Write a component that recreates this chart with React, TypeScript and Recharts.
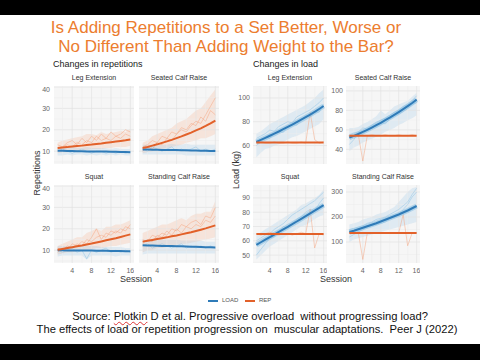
import React from "react";
import {
  ComposedChart,
  Line,
  Area,
  XAxis,
  YAxis,
  ReferenceLine,
  ReferenceArea,
} from "recharts";

const SESSIONS = [1, 2, 3, 4, 5, 6, 7, 8, 9, 10, 11, 12, 13, 14, 15, 16];
const SESSION_TICKS = [4, 8, 12, 16];
const SESSION_MINOR = [2, 6, 10, 14];

// ---- Changes in repetitions (shared y axis) ----
const REPS_TICKS = [10, 20, 30, 40];
const REPS_MINOR = [5, 15, 25, 35];

// Leg Extension
const rLE_repFit = [11.5, 11.7, 11.9, 12.2, 12.4, 12.6, 12.9, 13.1, 13.4, 13.6, 13.9, 14.2, 14.5, 14.8, 15.1, 15.5];
const rLE_loadFit = [10.2, 10.2, 10.1, 10.1, 10.0, 10.0, 9.9, 9.9, 9.9, 9.8, 9.8, 9.7, 9.7, 9.6, 9.6, 9.5];
const rLE_repLo = [9, 9.5, 9.5, 10, 10, 10.5, 10.5, 11, 11, 11, 11.5, 11.5, 12, 12, 12, 12.5];
const rLE_repHi = [14, 15, 15.5, 16, 16.5, 17, 18, 18, 17.5, 19, 18, 18.5, 19, 19.5, 19, 20.5];
const rLE_loadLo = [8, 8, 8.5, 8, 8.5, 8.5, 8, 8.5, 8, 8.5, 8, 8.5, 8, 8.5, 8, 8];
const rLE_loadHi = [12, 12, 11.5, 12, 11.5, 11.5, 12, 11.5, 11.5, 11.5, 11.5, 11, 11.5, 11, 11, 11];
const rLE_repA = [11, 12, 13, 12, 14, 13, 15, 14, 17, 15, 16, 15, 17, 16, 18, 17];
const rLE_repB = [13, 12, 14, 15, 13, 16, 14, 17, 15, 18, 16, 19, 17, 18, 20, 19];
const rLE_loadA = [10, 11, 10, 9, 10, 11, 10, 9, 10, 10, 9, 10, 9, 10, 9, 10];

// Seated Calf Raise
const rSCR_repFit = [11.5, 12.0, 12.6, 13.2, 13.9, 14.6, 15.3, 16.1, 16.9, 17.8, 18.7, 19.7, 20.7, 21.8, 23.0, 24.3];
const rSCR_loadFit = [10.8, 10.8, 10.7, 10.7, 10.6, 10.6, 10.5, 10.5, 10.4, 10.4, 10.3, 10.3, 10.2, 10.2, 10.1, 10.1];
const rSCR_repLo = [9, 9.5, 10, 10.5, 11, 11.5, 12, 12.5, 13, 14, 14.5, 15, 16, 16, 17, 18];
const rSCR_repHi = [14, 15, 17, 18, 19, 20, 21, 23, 24, 25, 27, 29, 30, 33, 36, 39];
const rSCR_loadLo = [8.5, 8.5, 8.5, 8.5, 8.5, 8.5, 8.5, 8.5, 8.5, 8, 8, 8, 8, 8, 8, 8];
const rSCR_loadHi = [13, 13, 13, 13, 13, 13, 13.5, 13, 13, 13.5, 13, 13, 13, 13, 13, 13];
const rSCR_repA = [12, 13, 15, 14, 17, 16, 19, 18, 21, 20, 23, 22, 26, 24, 29, 27];
const rSCR_repB = [10, 12, 11, 14, 13, 16, 15, 18, 20, 19, 22, 24, 23, 27, 31, 35];
const rSCR_loadA = [11, 10, 12, 11, 10, 11, 12, 10, 11, 10, 11, 12, 10, 11, 10, 11];

// Squat
const rSQ_repFit = [10.2, 10.6, 11.0, 11.4, 11.8, 12.2, 12.7, 13.1, 13.6, 14.1, 14.6, 15.1, 15.6, 16.2, 16.8, 17.4];
const rSQ_loadFit = [10.0, 10.0, 9.9, 9.9, 9.9, 9.8, 9.8, 9.8, 9.7, 9.7, 9.7, 9.6, 9.6, 9.6, 9.5, 9.5];
const rSQ_repLo = [8, 8.5, 9, 9, 9.5, 10, 10, 10.5, 11, 11, 11.5, 12, 12, 12.5, 13, 13.5];
const rSQ_repHi = [12, 13, 14, 15, 16, 16, 18, 19, 20, 19, 21, 21, 22, 22, 23, 24];
const rSQ_loadLo = [7, 7.5, 7.5, 7.5, 7.5, 7.5, 5.5, 7.5, 7.5, 7.5, 7.5, 7.5, 7, 7.5, 7.5, 7.5];
const rSQ_loadHi = [12, 12, 12, 12, 12, 12, 12, 12, 12, 11.5, 11.5, 11.5, 11.5, 11.5, 11, 11];
const rSQ_repA = [9, 11, 10, 13, 12, 14, 13, 16, 20, 15, 18, 17, 19, 18, 21, 20];
const rSQ_repB = [11, 10, 12, 11, 13, 12, 15, 14, 16, 17, 16, 19, 18, 20, 19, 22];
const rSQ_loadA = [10, 9, 10, 11, 9, 10, 6, 10, 9, 10, 11, 9, 10, 9, 10, 9];

// Standing Calf Raise
const rSTC_repFit = [14.0, 14.4, 14.8, 15.2, 15.6, 16.0, 16.5, 16.9, 17.4, 17.9, 18.4, 19.0, 19.6, 20.2, 20.9, 21.6];
const rSTC_loadFit = [12.3, 12.2, 12.2, 12.1, 12.0, 12.0, 11.9, 11.8, 11.8, 11.7, 11.6, 11.6, 11.5, 11.4, 11.4, 11.3];
const rSTC_repLo = [9, 10, 10, 11, 11, 11.5, 12, 12.5, 13, 13, 13.5, 14, 14.5, 15, 15.5, 16];
const rSTC_repHi = [18, 19, 20, 21, 22, 22, 23, 24, 25, 24, 26, 27, 27, 28, 28, 33];
const rSTC_loadLo = [8, 8.5, 8.5, 8.5, 8.5, 8.5, 8.5, 8.5, 8.5, 8.5, 8.5, 8.5, 8.5, 8.5, 8.5, 8.5];
const rSTC_loadHi = [15, 15, 15, 15, 15, 15, 15, 15, 14.5, 14.5, 14.5, 14.5, 14.5, 14, 14, 14];
const rSTC_repA = [13, 15, 14, 17, 16, 19, 17, 20, 18, 21, 20, 22, 21, 24, 23, 26];
const rSTC_repB = [15, 14, 17, 16, 18, 17, 20, 19, 22, 21, 23, 24, 22, 26, 25, 30];
const rSTC_loadA = [12, 13, 11, 12, 13, 12, 11, 12, 13, 11, 12, 11, 12, 11, 12, 11];

// ---- Changes in load (free y axes) ----
const kLE_loadFit = [63, 64.7, 66.4, 68.2, 70, 71.8, 73.7, 75.6, 77.6, 79.6, 81.7, 83.8, 86, 88.3, 90.7, 93.2];
const kLE_repFit = [62.5, 62.5, 62.5, 62.5, 62.5, 62.5, 62.5, 62.5, 62.5, 62.5, 62.5, 62.5, 62.5, 62.5, 62.5, 62.5];
const kLE_loadLo = [50, 54, 57, 58, 60, 61, 63, 65, 67, 68, 70, 72, 74, 76, 78, 82];
const kLE_loadHi = [70, 72, 75, 78, 80, 82, 84, 86, 88, 90, 92, 94, 97, 100, 104, 107];
const kLE_loadA = [60, 63, 67, 66, 70, 72, 71, 76, 78, 77, 82, 85, 84, 88, 88, 95];
const kLE_loadB = [66, 68, 70, 73, 72, 76, 78, 80, 79, 84, 86, 88, 90, 93, 96, 100];
const kLE_repA = [62, 63, 62, 62, 63, 62, 62, 63, 62, 62, 63, 62, 88, 65, 62, 63];

const kSCR_loadFit = [52, 53.8, 55.8, 57.9, 60.1, 62.4, 64.8, 67.3, 69.9, 72.6, 75.4, 78.3, 81.3, 84.4, 87.6, 91];
const kSCR_repFit = [54, 54, 54, 54, 54, 54, 54, 54, 54, 54, 54, 54, 54, 54, 54, 54];
const kSCR_loadLo = [38, 42, 44, 47, 49, 51, 53, 55, 58, 60, 62, 65, 67, 70, 72, 75];
const kSCR_loadHi = [62, 62, 63, 66, 68, 71, 74, 80, 76, 80, 84, 86, 88, 90, 94, 98];
const kSCR_loadA = [45, 50, 57, 56, 60, 64, 63, 68, 66, 71, 74, 76, 79, 82, 86, 88];
const kSCR_loadB = [55, 57, 58, 62, 61, 65, 68, 70, 72, 75, 78, 80, 84, 86, 90, 95];
const kSCR_repA = [53, 54, 55, 28, 54, 55, 54, 54, 55, 54, 54, 55, 54, 54, 55, 54];

const kSQ_loadFit = [57.2, 59, 60.8, 62.6, 64.4, 66.2, 68, 69.8, 71.6, 73.5, 75.4, 77.3, 79.2, 81.1, 83, 85];
const kSQ_repFit = [64.8, 64.8, 64.8, 64.8, 64.8, 64.8, 64.8, 64.8, 64.8, 64.8, 64.8, 64.8, 64.8, 64.8, 64.8, 64.8];
const kSQ_loadLo = [47, 50, 53, 56, 58, 60, 62, 64, 66, 68, 70, 71, 73, 75, 77, 78];
const kSQ_loadHi = [64, 66, 68, 70, 72, 74, 76, 78, 80, 82, 85, 86, 88, 90, 92, 96];
const kSQ_loadA = [50, 54, 58, 62, 63, 66, 70, 69, 72, 75, 77, 80, 82, 81, 86, 90];
const kSQ_loadB = [60, 62, 64, 65, 68, 70, 72, 75, 78, 80, 82, 84, 86, 88, 91, 94];
const kSQ_repA = [65, 64, 65, 66, 65, 64, 65, 65, 64, 65, 66, 65, 82, 55, 65, 64];

const kSTC_loadFit = [140, 145, 151, 157, 163, 169, 175, 182, 189, 196, 203, 210, 218, 226, 235, 244];
const kSTC_repFit = [136, 136, 136, 136, 136, 136, 136, 136, 136, 136, 136, 136, 136, 136, 136, 136];
const kSTC_loadLo = [100, 110, 115, 120, 125, 130, 135, 140, 145, 150, 155, 160, 165, 170, 175, 180];
const kSTC_loadHi = [170, 175, 180, 190, 195, 200, 210, 215, 220, 230, 240, 260, 280, 300, 315, 320];
const kSTC_loadA = [120, 130, 140, 150, 160, 165, 170, 175, 180, 195, 200, 210, 230, 250, 280, 300];
const kSTC_loadB = [150, 155, 160, 165, 175, 180, 190, 195, 200, 210, 220, 230, 245, 260, 290, 315];
const kSTC_repA = [135, 137, 136, 30, 136, 137, 135, 136, 137, 136, 135, 136, 210, 85, 136, 137];

const BLUE = "#2f7bb8";
const ORANGE = "#e2612a";
const BLUE_LIGHT = "#8ec1e3";
const ORANGE_LIGHT = "#f4a27c";
const FONT = '"Liberation Sans", Arial, sans-serif';

type FacetData = {
  repFit: number[];
  loadFit: number[];
  repLo?: number[];
  repHi?: number[];
  loadLo?: number[];
  loadHi?: number[];
  repLines: number[][];
  loadLines: number[][];
};

type FacetProps = {
  title: string;
  x: number;
  y: number;
  w: number;
  h: number;
  yw: number;
  showX: boolean;
  domain: [number, number];
  ticks: number[];
  minor: number[];
  kind: "reps" | "load";
  d: FacetData;
};

function Facet({ title, x, y, w, h, yw, showX, domain, ticks, minor, kind, d }: FacetProps) {
  const rows = SESSIONS.map((s, i) => {
    const r: Record<string, any> = { session: s, repFit: d.repFit[i], loadFit: d.loadFit[i] };
    if (d.repLo && d.repHi) r.repBand = [d.repLo[i], d.repHi[i]];
    if (d.loadLo && d.loadHi) r.loadBand = [d.loadLo[i], d.loadHi[i]];
    d.repLines.forEach((l, j) => (r["rep" + j] = l[i]));
    d.loadLines.forEach((l, j) => (r["load" + j] = l[i]));
    return r;
  });
  const chartH = h + (showX ? 14 : 0);
  const tick = { fontSize: 7, fill: "#666", fontFamily: FONT };

  const repSpread = (
    <>
      {d.repLo && (
        <Area dataKey="repBand" stroke="none" fill={ORANGE_LIGHT} fillOpacity={0.22} isAnimationActive={false} />
      )}
      {d.repLines.map((_, j) => (
        <Line key={"r" + j} dataKey={"rep" + j} stroke={ORANGE_LIGHT} strokeWidth={0.6} strokeOpacity={0.8} dot={false} isAnimationActive={false} />
      ))}
    </>
  );
  const loadSpread = (
    <>
      {d.loadLo && (
        <Area dataKey="loadBand" stroke="none" fill={BLUE_LIGHT} fillOpacity={0.22} isAnimationActive={false} />
      )}
      {d.loadLines.map((_, j) => (
        <Line key={"l" + j} dataKey={"load" + j} stroke={BLUE_LIGHT} strokeWidth={0.6} strokeOpacity={0.8} dot={false} isAnimationActive={false} />
      ))}
    </>
  );

  return (
    <>
      <div
        style={{
          position: "absolute",
          left: x,
          top: y - 12,
          width: w,
          textAlign: "center",
          fontSize: 7,
          color: "#333",
          fontFamily: FONT,
          whiteSpace: "nowrap",
        }}
      >
        {title}
      </div>
      <div style={{ position: "absolute", left: x - yw, top: y }}>
        <ComposedChart width={yw + w} height={chartH} data={rows} margin={{ top: 0, right: 0, bottom: 0, left: 0 }}>
          <XAxis
            type="number"
            dataKey="session"
            domain={[0.25, 16.75]}
            ticks={SESSION_TICKS}
            allowDataOverflow
            hide={!showX}
            height={14}
            tick={tick}
            tickLine={false}
            axisLine={false}
            tickSize={0}
            tickMargin={5}
          />
          <YAxis
            type="number"
            domain={domain}
            ticks={ticks}
            allowDataOverflow
            hide={yw === 0}
            width={yw}
            tick={tick}
            tickLine={false}
            axisLine={false}
            tickSize={0}
            tickMargin={kind === "reps" ? 4 : 3}
          />
          <ReferenceArea x1={0.25} x2={16.75} y1={domain[0]} y2={domain[1]} fill="#f6f6f6" fillOpacity={1} stroke="none" />
          {minor.map((v) => (
            <ReferenceLine key={"hm" + v} y={v} stroke="#ececec" strokeWidth={0.5} />
          ))}
          {ticks.map((v) => (
            <ReferenceLine key={"h" + v} y={v} stroke="#e2e2e2" strokeWidth={0.7} />
          ))}
          {SESSION_MINOR.map((v) => (
            <ReferenceLine key={"vm" + v} x={v} stroke="#ececec" strokeWidth={0.5} />
          ))}
          {SESSION_TICKS.map((v) => (
            <ReferenceLine key={"v" + v} x={v} stroke="#e2e2e2" strokeWidth={0.7} />
          ))}
          {kind === "reps" ? repSpread : loadSpread}
          {kind === "reps" ? loadSpread : repSpread}
          {kind === "load" && (
            <Line dataKey="loadFit" stroke={BLUE_LIGHT} strokeWidth={5} strokeOpacity={0.6} dot={false} isAnimationActive={false} />
          )}
          <Line dataKey="loadFit" stroke={BLUE} strokeWidth={2} dot={false} isAnimationActive={false} />
          <Line dataKey="repFit" stroke={ORANGE} strokeWidth={2} dot={false} isAnimationActive={false} />
        </ComposedChart>
      </div>
    </>
  );
}

const abs = (s: React.CSSProperties): React.CSSProperties => ({ position: "absolute", fontFamily: FONT, ...s });

export default function App() {
  const repsFacets = [
    { title: "Leg Extension", x: 54, y: 86, yw: 24, showX: false,
      d: { repFit: rLE_repFit, loadFit: rLE_loadFit, repLo: rLE_repLo, repHi: rLE_repHi, loadLo: rLE_loadLo, loadHi: rLE_loadHi, repLines: [rLE_repA, rLE_repB], loadLines: [rLE_loadA] } },
    { title: "Seated Calf Raise", x: 139, y: 86, yw: 0, showX: false,
      d: { repFit: rSCR_repFit, loadFit: rSCR_loadFit, repLo: rSCR_repLo, repHi: rSCR_repHi, loadLo: rSCR_loadLo, loadHi: rSCR_loadHi, repLines: [rSCR_repA, rSCR_repB], loadLines: [rSCR_loadA] } },
    { title: "Squat", x: 54, y: 185, yw: 24, showX: true,
      d: { repFit: rSQ_repFit, loadFit: rSQ_loadFit, repLo: rSQ_repLo, repHi: rSQ_repHi, loadLo: rSQ_loadLo, loadHi: rSQ_loadHi, repLines: [rSQ_repA, rSQ_repB], loadLines: [rSQ_loadA] } },
    { title: "Standing Calf Raise", x: 139, y: 185, yw: 0, showX: true,
      d: { repFit: rSTC_repFit, loadFit: rSTC_loadFit, repLo: rSTC_repLo, repHi: rSTC_repHi, loadLo: rSTC_loadLo, loadHi: rSTC_loadHi, repLines: [rSTC_repA, rSTC_repB], loadLines: [rSTC_loadA] } },
  ];
  const loadFacets = [
    { title: "Leg Extension", x: 253, y: 86, showX: false, domain: [44.5, 110] as [number, number], ticks: [60, 80, 100], minor: [50, 70, 90, 110],
      d: { repFit: kLE_repFit, loadFit: kLE_loadFit, loadLo: kLE_loadLo, loadHi: kLE_loadHi, repLines: [kLE_repA], loadLines: [kLE_loadA, kLE_loadB] } },
    { title: "Seated Calf Raise", x: 346, y: 86, showX: false, domain: [25, 105] as [number, number], ticks: [40, 60, 80, 100], minor: [30, 50, 70, 90],
      d: { repFit: kSCR_repFit, loadFit: kSCR_loadFit, loadLo: kSCR_loadLo, loadHi: kSCR_loadHi, repLines: [kSCR_repA], loadLines: [kSCR_loadA, kSCR_loadB] } },
    { title: "Squat", x: 253, y: 185, showX: true, domain: [44.5, 99] as [number, number], ticks: [50, 60, 70, 80, 90], minor: [45, 55, 65, 75, 85, 95],
      d: { repFit: kSQ_repFit, loadFit: kSQ_loadFit, loadLo: kSQ_loadLo, loadHi: kSQ_loadHi, repLines: [kSQ_repA], loadLines: [kSQ_loadA, kSQ_loadB] } },
    { title: "Standing Calf Raise", x: 346, y: 185, showX: true, domain: [16, 328] as [number, number], ticks: [100, 200, 300], minor: [50, 150, 250],
      d: { repFit: kSTC_repFit, loadFit: kSTC_loadFit, loadLo: kSTC_loadLo, loadHi: kSTC_loadHi, repLines: [kSTC_repA], loadLines: [kSTC_loadA, kSTC_loadB] } },
  ];

  return (
    <div style={{ position: "absolute", left: 0, top: 0, width: 480, height: 360, background: "#fff", overflow: "hidden" }}>
      <div style={abs({ left: 0, top: 0, width: 480, height: 15, background: "#000" })} />
      <div style={abs({ left: 0, top: 344, width: 480, height: 16, background: "#000" })} />

      <div style={abs({ left: 0, top: 18, width: 452, textAlign: "center", fontSize: 17, lineHeight: "19px", color: "#ec7d2f" })}>
        Is Adding Repetitions to a Set Better, Worse or
        <br />
        No Different Than Adding Weight to the Bar?
      </div>

      <div style={abs({ left: 53, top: 59, fontSize: 9, color: "#222" })}>Changes in repetitions</div>
      <div style={abs({ left: 253, top: 59, fontSize: 9, color: "#222" })}>Changes in load</div>

      {repsFacets.map((f) => (
        <Facet key={"r" + f.title} {...f} w={80} h={78} domain={[4, 40.5]} ticks={REPS_TICKS} minor={REPS_MINOR} kind="reps" />
      ))}
      {loadFacets.map((f) => (
        <Facet key={"k" + f.title} {...f} w={74} h={78} yw={20} kind="load" />
      ))}

      <div style={abs({ left: 37, top: 173, fontSize: 9, color: "#333", transform: "translate(-50%, -50%) rotate(-90deg)", whiteSpace: "nowrap" })}>
        Repetitions
      </div>
      <div style={abs({ left: 236, top: 170, fontSize: 9, color: "#333", transform: "translate(-50%, -50%) rotate(-90deg)", whiteSpace: "nowrap" })}>
        Load (kg)
      </div>
      <div style={abs({ left: 136, top: 279, fontSize: 9, color: "#333", transform: "translate(-50%, -50%)" })}>Session</div>
      <div style={abs({ left: 336, top: 279, fontSize: 9, color: "#333", transform: "translate(-50%, -50%)" })}>Session</div>

      <div style={abs({ left: 208, top: 300, width: 10, height: 2, background: BLUE })} />
      <div style={abs({ left: 222, top: 297, fontSize: 6, color: "#555" })}>LOAD</div>
      <div style={abs({ left: 245, top: 300, width: 10, height: 2, background: ORANGE })} />
      <div style={abs({ left: 259, top: 297, fontSize: 6, color: "#555" })}>REP</div>

      <div style={abs({ left: 250, top: 316, fontSize: 11.2, lineHeight: "12px", color: "#111", transform: "translate(-50%, -50%)", whiteSpace: "pre" })}>
        Source:{" "}
        <span style={{ textDecoration: "underline wavy #d33", textDecorationThickness: "1px" }}>Plotkin</span>
        {" D et al. Progressive overload  without progressing load?"}
      </div>
      <div style={abs({ left: 247, top: 329, fontSize: 11.2, lineHeight: "12px", color: "#111", transform: "translate(-50%, -50%)", whiteSpace: "pre" })}>
        {"The effects of load or repetition progression on  muscular adaptations.  Peer J (2022)"}
      </div>
    </div>
  );
}
